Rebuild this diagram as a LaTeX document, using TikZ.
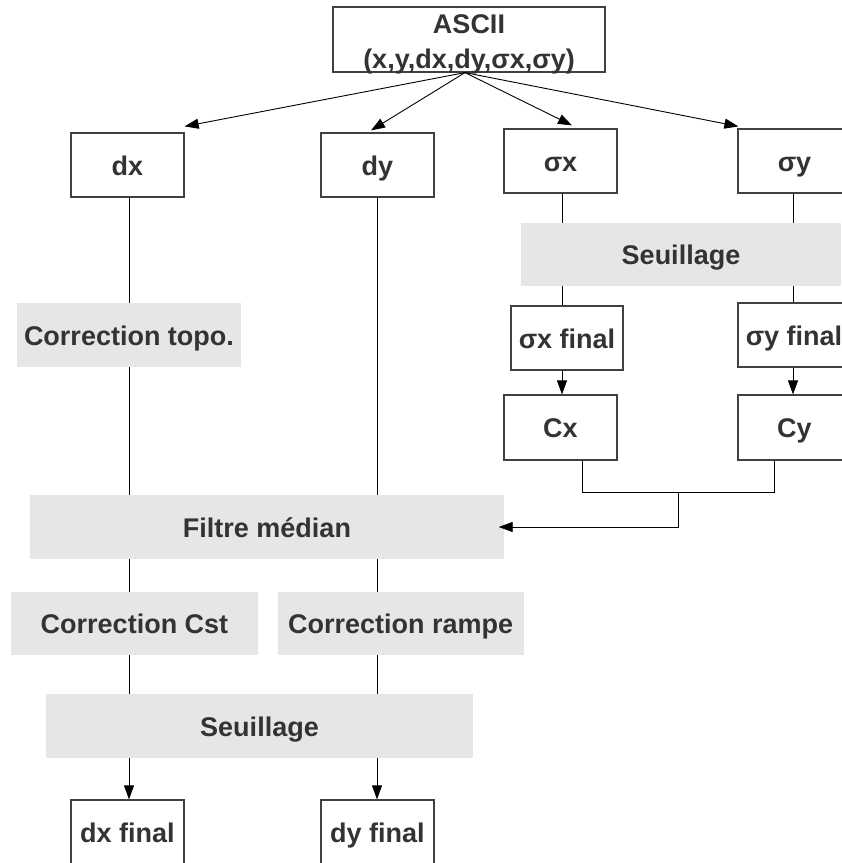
\documentclass[tikz,border=0pt]{standalone}
\usepackage{fontspec}
\setmainfont{Liberation Sans}
\usetikzlibrary{arrows.meta}
\definecolor{txtc}{HTML}{333333}
\definecolor{grayfill}{HTML}{E6E6E6}
\definecolor{boxline}{HTML}{404040}
\begin{document}
\begin{tikzpicture}[x=1pt,y=-1pt,
  base/.style={inner sep=0pt, font=\fontsize{27}{32}\selectfont\bfseries, text=txtc, text height=20pt, text depth=0pt},
  wbox/.style={base, draw=boxline, line width=1.2pt, fill=white, minimum width=113pt, minimum height=64pt},
  gbox/.style={base, fill=grayfill, minimum height=64pt},
  conn/.style={line width=0.9pt, draw=black},
  arr/.style={conn, -{Triangle[length=14pt,width=10pt]}}]
\useasboundingbox (0,0) rectangle (842,863);
\clip (0,0) rectangle (842,863);
\fill[white] (0,0) rectangle (842,863);
% column coordinates
\coordinate (colA) at (129,0);
\coordinate (colB) at (377,0);
\coordinate (colC) at (562,0);
\coordinate (colD) at (793,0);
% top box
\node[wbox, minimum width=272pt, minimum height=65pt] (ascii) at (469,39.5) {};
\node[base, anchor=base] (asciiA) at (469,33) {ASCII};
\node[base, anchor=base] (asciiB) at (469,68) {(x,y,dx,dy,σx,σy)};
% second row
\node[wbox] (dx) at (127.5,165) {dx};
\node[wbox] (dy) at (377.5,165) {dy};
\node[wbox] (sx) at (560.5,161) {σx};
\node[wbox] (sy) at (794.5,161) {σy};
% right branch
\node[gbox, minimum width=320pt, minimum height=63pt] (seuilA) at (681,254.5) {Seuillage};
\node[wbox, minimum width=112pt] (sxf) at (567,338) {σx final};
\node[wbox, minimum width=112pt] (syf) at (794,335) {σy final};
\node[wbox, minimum height=65pt] (cx) at (560.5,427.5) {Cx};
\node[wbox, minimum height=65pt] (cy) at (794.5,427.5) {Cy};
% left branch
\node[gbox, minimum width=224pt] (ctopo) at (129,335) {Correction topo.};
\node[gbox, minimum width=474pt] (filtre) at (267,527) {Filtre médian};
\node[gbox, minimum width=247pt, minimum height=63pt] (ccst) at (134.5,623.5) {Correction Cst};
\node[gbox, minimum width=245.5pt, minimum height=63pt] (cramp) at (400.75,623.5) {Correction rampe};
\node[gbox, minimum width=427pt] (seuilB) at (259.5,726) {Seuillage};
\node[wbox] (dxf) at (127.5,832) {dx final};
\node[wbox] (dyf) at (377.5,832) {dy final};
% connectors from the top box
\coordinate (apex) at ([xshift=-4pt]ascii.south);
\draw[arr] (apex) -- ([yshift=6pt]dx.north east);
\draw[arr] (apex) -- ([xshift=-6.5pt,yshift=2pt]dy.north);
\draw[arr] (apex) -- ([xshift=11.5pt,yshift=3pt]sx.north);
\draw[arr] (apex) -- ([xshift=1pt,yshift=2pt]sy.north west);
% column A
\draw[conn] (dx.south -| colA) -- (ctopo.north -| colA);
\draw[conn] (ctopo.south -| colA) -- (filtre.north -| colA);
\draw[conn] (filtre.south -| colA) -- (ccst.north -| colA);
\draw[conn] (ccst.south -| colA) -- (seuilB.north -| colA);
\draw[arr] (seuilB.south -| colA) -- (dxf.north -| colA);
% column B
\draw[conn] (dy.south -| colB) -- (filtre.north -| colB);
\draw[conn] (filtre.south -| colB) -- (cramp.north -| colB);
\draw[conn] (cramp.south -| colB) -- (seuilB.north -| colB);
\draw[arr] (seuilB.south -| colB) -- (dyf.north -| colB);
% column C
\draw[conn] (sx.south -| colC) -- (seuilA.north -| colC);
\draw[conn] (seuilA.south -| colC) -- (sxf.north -| colC);
\draw[arr] (sxf.south -| colC) -- (cx.north -| colC);
% column D
\draw[conn] (sy.south -| colD) -- (seuilA.north -| colD);
\draw[conn] (seuilA.south -| colD) -- (syf.north -| colD);
\draw[arr] (syf.south -| colD) -- (cy.north -| colD);
% join of Cx and Cy into the median filter
\coordinate (jx) at (582,492);
\coordinate (jy) at (774,492);
\coordinate (jm) at (678,492);
\draw[conn] (cx.south -| jx) -- (jx) -- (jy) -- (cy.south -| jy);
\draw[arr] (jm) |- ([xshift=-5.5pt]filtre.east);
\end{tikzpicture}
\end{document}
